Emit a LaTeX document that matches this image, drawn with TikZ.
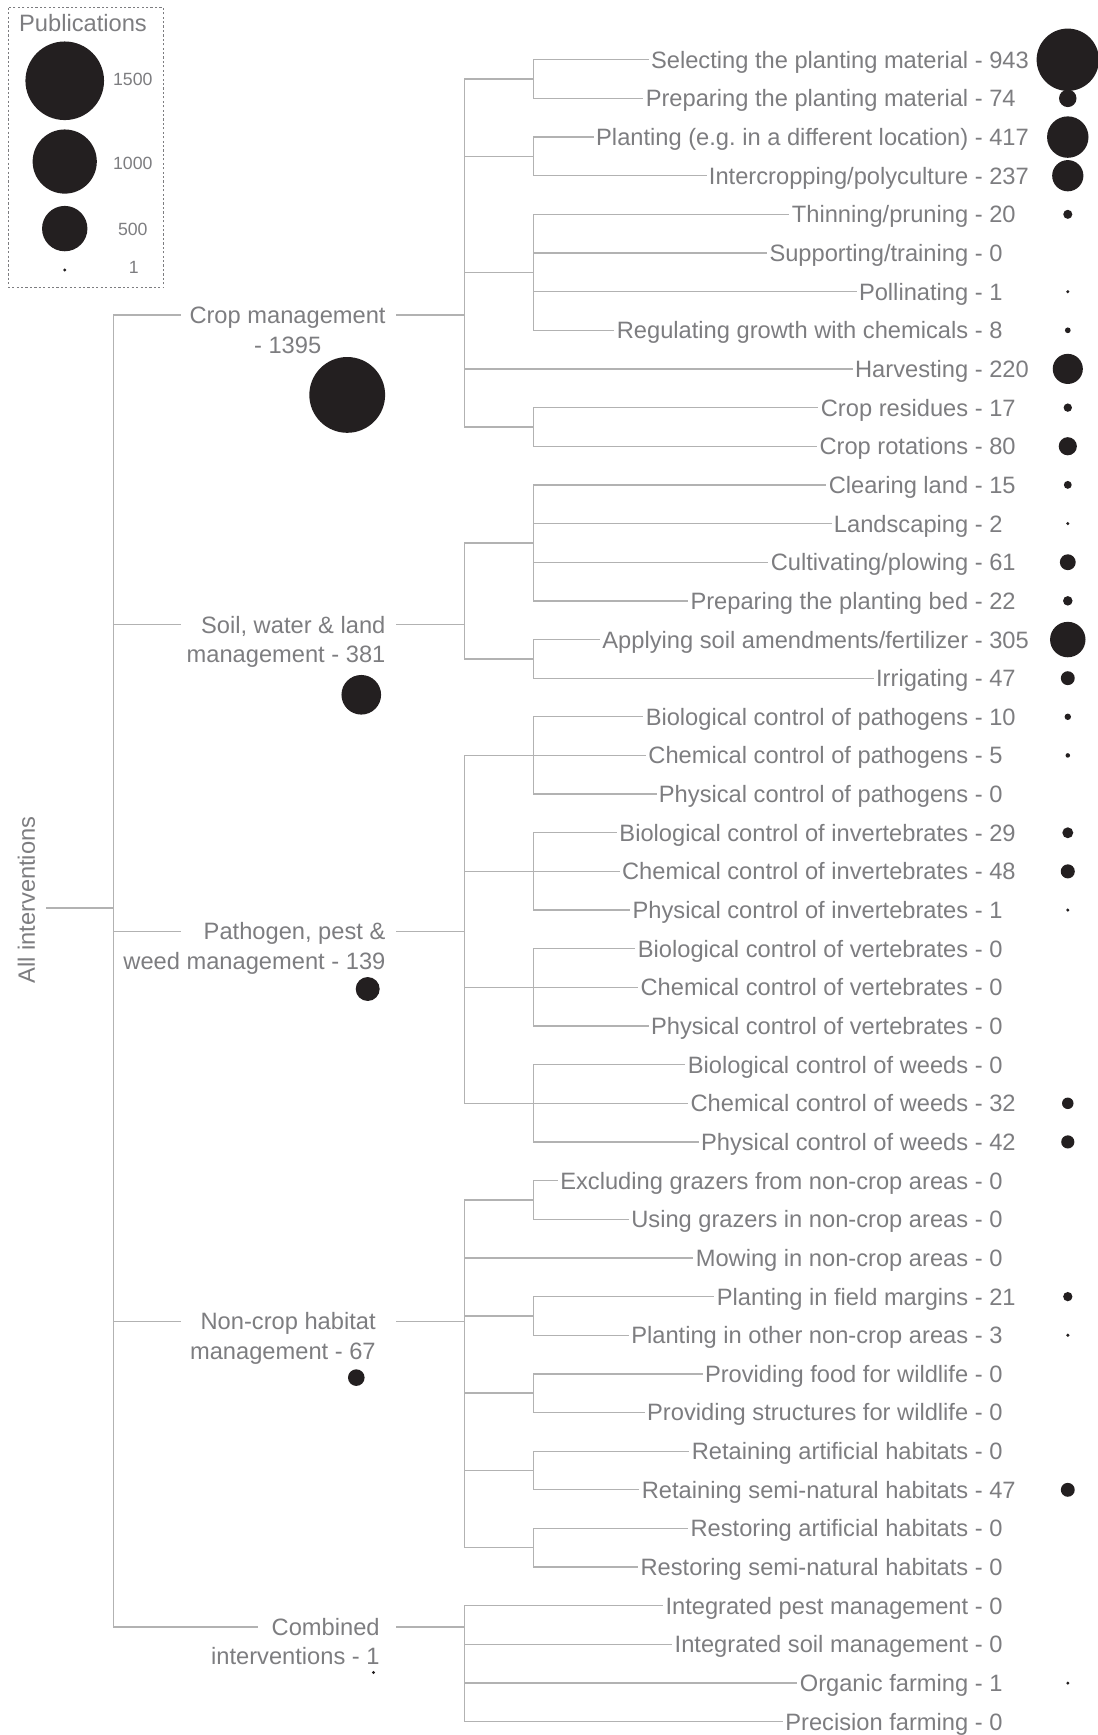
\documentclass[tikz,border=0pt]{standalone}
\usepackage{fontspec}
\setmainfont{Liberation Sans}
\usepackage{tikz}
\usetikzlibrary{calc}
\definecolor{faded}{RGB}{125,125,128}
\definecolor{rule}{RGB}{178,178,178}
\definecolor{ink}{RGB}{35,31,32}
\newcommand{\tally}[2]{#1 - \rlap{#2}\phantom{000}}
\newcommand{\pubdot}[2]{\fill[ink] #1 circle[radius={max(0.917*sqrt(#2),1.5)*1pt}];}

\begin{document}
\begin{tikzpicture}[x=1pt, y=-1pt,
  wire/.style={draw=rule, line width=1.2pt},
  leaf/.style={anchor=east, inner xsep=2pt, inner ysep=0pt, text height=15.3pt,
               text depth=0pt, text=faded, font=\fontsize{21.4}{24}\selectfont},
  cat/.style={leaf, inner xsep=0pt},
  key/.style={text=faded, font=\fontsize{16}{18}\selectfont},
]
  \useasboundingbox (0,0) rectangle (992,1568);

  % legend
  \draw[faded, line width=0.8pt, dash pattern=on 2pt off 2pt] (8,7) rectangle (148,260);
  \node (pubs) [leaf, anchor=center] at (75,21) {Publications};
  \pubdot{(58.5,73)}{1500} \node (k1500) [key] at (120,71.5) {1500};
  \pubdot{(58.5,146)}{1000} \node (k1000) [key] at (120,147.3) {1000};
  \pubdot{(58.5,206.6)}{500} \node (k500) [key] at (120,207.5) {500};
  \pubdot{(58.5,244)}{1} \node (k1) [key] at (121,242) {1};

  \coordinate (root) at (102.5,820.6);
  \coordinate (in2) at (164,0);
  \coordinate (in5) at (233,0);
  \coordinate (out2) at (358,0);
  \coordinate (b2) at (419.5,0);
  \coordinate (b3) at (482,0);
  \coordinate (dots) at (965,0);

  % root
  \node (all) [leaf, anchor=center, rotate=90, inner ysep=10pt] at (23.8,813.5) {All interventions};
  \draw[wire] (all.south |- root) -- (root);

  % categories
  \node (crop) [cat] at (348.7,284.6) {Crop management};
  \node (cropn) [cat, anchor=center] at (260,311.7) {- 1395};
  \pubdot{(313.8,356.9)}{1395}
  \node (soil) [cat] at (348.5,564.6) {Soil, water \& land};
  \node (soiln) [cat] at (348.5,590.8) {management - 381};
  \pubdot{(326.5,627.9)}{381}
  \node (pest) [cat] at (348.5,841.7) {Pathogen, pest \&};
  \node (pestn) [cat] at (348.5,868.8) {weed management - 139};
  \pubdot{(332.3,893.8)}{139}
  \node (habitat) [cat] at (339.7,1194.3) {Non-crop habitat};
  \node (habitatn) [cat] at (339.7,1221) {management - 67};
  \pubdot{(322,1245)}{67}
  \node (comb) [cat] at (343.3,1470.5) {Combined};
  \node (combn) [cat] at (343.3,1496.7) {interventions - 1};
  \pubdot{(337.6,1511.5)}{1}

  \draw[wire] (crop -| root) -- (comb -| root);
  \draw[wire] (crop -| root) -- (crop -| in2) (crop -| out2) -- (crop -| b2);
  \draw[wire] (soil -| root) -- (soil -| in2) (soil -| out2) -- (soil -| b2);
  \draw[wire] (pest -| root) -- (pest -| in2) (pest -| out2) -- (pest -| b2);
  \draw[wire] (habitat -| root) -- (habitat -| in2) (habitat -| out2) -- (habitat -| b2);
  \draw[wire] (comb -| root) -- (comb -| in5) (comb -| out2) -- (comb -| b2);

  % leaves
  \node (l1) [leaf] at (932,54.0) {\tally{Selecting the planting material}{943}};
  \node (l2) [leaf] at (932,88.9) {\tally{Preparing the planting material}{74}};
  \node (l3) [leaf] at (932,123.9) {\tally{Planting (e.g.\ in a different location)}{417}};
  \node (l4) [leaf] at (932,158.8) {\tally{Intercropping/polyculture}{237}};
  \node (l5) [leaf] at (932,193.7) {\tally{Thinning/pruning}{20}};
  \node (l6) [leaf] at (932,228.7) {\tally{Supporting/training}{0}};
  \node (l7) [leaf] at (932,263.6) {\tally{Pollinating}{1}};
  \node (l8) [leaf] at (932,298.5) {\tally{Regulating growth with chemicals}{8}};
  \node (l9) [leaf] at (932,333.4) {\tally{Harvesting}{220}};
  \node (l10) [leaf] at (932,368.4) {\tally{Crop residues}{17}};
  \node (l11) [leaf] at (932,403.3) {\tally{Crop rotations}{80}};
  \node (l12) [leaf] at (932,438.2) {\tally{Clearing land}{15}};
  \node (l13) [leaf] at (932,473.2) {\tally{Landscaping}{2}};
  \node (l14) [leaf] at (932,508.1) {\tally{Cultivating/plowing}{61}};
  \node (l15) [leaf] at (932,543.0) {\tally{Preparing the planting bed}{22}};
  \node (l16) [leaf] at (932,578.0) {\tally{Applying soil amendments/fertilizer}{305}};
  \node (l17) [leaf] at (932,612.9) {\tally{Irrigating}{47}};
  \node (l18) [leaf] at (932,647.8) {\tally{Biological control of pathogens}{10}};
  \node (l19) [leaf] at (932,682.7) {\tally{Chemical control of pathogens}{5}};
  \node (l20) [leaf] at (932,717.7) {\tally{Physical control of pathogens}{0}};
  \node (l21) [leaf] at (932,752.6) {\tally{Biological control of invertebrates}{29}};
  \node (l22) [leaf] at (932,787.5) {\tally{Chemical control of invertebrates}{48}};
  \node (l23) [leaf] at (932,822.5) {\tally{Physical control of invertebrates}{1}};
  \node (l24) [leaf] at (932,857.4) {\tally{Biological control of vertebrates}{0}};
  \node (l25) [leaf] at (932,892.3) {\tally{Chemical control of vertebrates}{0}};
  \node (l26) [leaf] at (932,927.3) {\tally{Physical control of vertebrates}{0}};
  \node (l27) [leaf] at (932,962.2) {\tally{Biological control of weeds}{0}};
  \node (l28) [leaf] at (932,997.1) {\tally{Chemical control of weeds}{32}};
  \node (l29) [leaf] at (932,1032.0) {\tally{Physical control of weeds}{42}};
  \node (l30) [leaf] at (932,1067.0) {\tally{Excluding grazers from non-crop areas}{0}};
  \node (l31) [leaf] at (932,1101.9) {\tally{Using grazers in non-crop areas}{0}};
  \node (l32) [leaf] at (932,1136.8) {\tally{Mowing in non-crop areas}{0}};
  \node (l33) [leaf] at (932,1171.8) {\tally{Planting in field margins}{21}};
  \node (l34) [leaf] at (932,1206.7) {\tally{Planting in other non-crop areas}{3}};
  \node (l35) [leaf] at (932,1241.6) {\tally{Providing food for wildlife}{0}};
  \node (l36) [leaf] at (932,1276.5) {\tally{Providing structures for wildlife}{0}};
  \node (l37) [leaf] at (932,1311.5) {\tally{Retaining artificial habitats}{0}};
  \node (l38) [leaf] at (932,1346.4) {\tally{Retaining semi-natural habitats}{47}};
  \node (l39) [leaf] at (932,1381.3) {\tally{Restoring artificial habitats}{0}};
  \node (l40) [leaf] at (932,1416.3) {\tally{Restoring semi-natural habitats}{0}};
  \node (l41) [leaf] at (932,1451.2) {\tally{Integrated pest management}{0}};
  \node (l42) [leaf] at (932,1486.1) {\tally{Integrated soil management}{0}};
  \node (l43) [leaf] at (932,1521.1) {\tally{Organic farming}{1}};
  \node (l44) [leaf] at (932,1556.0) {\tally{Precision farming}{0}};

  % group joints
  \coordinate (g1) at ($(l1)!.5!(l2)$);
  \coordinate (g2) at ($(l3)!.5!(l4)$);
  \coordinate (g3) at ($(l5)!.5!(l8)$);
  \coordinate (g4) at ($(l10)!.5!(l11)$);
  \coordinate (g5) at ($(l12)!.5!(l15)$);
  \coordinate (g6) at ($(l16)!.5!(l17)$);
  \coordinate (g7) at ($(l18)!.5!(l20)$);
  \coordinate (g8) at ($(l21)!.5!(l23)$);
  \coordinate (g9) at ($(l24)!.5!(l26)$);
  \coordinate (g10) at ($(l27)!.5!(l29)$);
  \coordinate (g11) at ($(l30)!.5!(l31)$);
  \coordinate (g12) at ($(l33)!.5!(l34)$);
  \coordinate (g13) at ($(l35)!.5!(l36)$);
  \coordinate (g14) at ($(l37)!.5!(l38)$);
  \coordinate (g15) at ($(l39)!.5!(l40)$);

  % second level buses
  \draw[wire] (g1 -| b2) -- (g4 -| b2);
  \draw[wire] (g5 -| b2) -- (g6 -| b2);
  \draw[wire] (g7 -| b2) -- (g10 -| b2);
  \draw[wire] (g11 -| b2) -- (g15 -| b2);
  \draw[wire] (l41 -| b2) -- (l44 -| b2);
  \draw[wire] (g1 -| b2) -- (g1 -| b3) (g2 -| b2) -- (g2 -| b3) (g3 -| b2) -- (g3 -| b3);
  \draw[wire] (g4 -| b2) -- (g4 -| b3) (g5 -| b2) -- (g5 -| b3) (g6 -| b2) -- (g6 -| b3);
  \draw[wire] (g7 -| b2) -- (g7 -| b3) (g8 -| b2) -- (g8 -| b3) (g9 -| b2) -- (g9 -| b3);
  \draw[wire] (g10 -| b2) -- (g10 -| b3) (g11 -| b2) -- (g11 -| b3) (g12 -| b2) -- (g12 -| b3);
  \draw[wire] (g13 -| b2) -- (g13 -| b3) (g14 -| b2) -- (g14 -| b3) (g15 -| b2) -- (g15 -| b3);

  % third level buses
  \draw[wire] (l1 -| b3) -- (l2 -| b3) (l3 -| b3) -- (l4 -| b3) (l5 -| b3) -- (l8 -| b3);
  \draw[wire] (l10 -| b3) -- (l11 -| b3) (l12 -| b3) -- (l15 -| b3) (l16 -| b3) -- (l17 -| b3);
  \draw[wire] (l18 -| b3) -- (l20 -| b3) (l21 -| b3) -- (l23 -| b3) (l24 -| b3) -- (l26 -| b3);
  \draw[wire] (l27 -| b3) -- (l29 -| b3) (l30 -| b3) -- (l31 -| b3) (l33 -| b3) -- (l34 -| b3);
  \draw[wire] (l35 -| b3) -- (l36 -| b3) (l37 -| b3) -- (l38 -| b3) (l39 -| b3) -- (l40 -| b3);

  % leaf wires
  \draw[wire] (l1 -| b3) -- (l1.west) (l2 -| b3) -- (l2.west) (l3 -| b3) -- (l3.west) (l4 -| b3) -- (l4.west);
  \draw[wire] (l5 -| b3) -- (l5.west) (l6 -| b3) -- (l6.west) (l7 -| b3) -- (l7.west) (l8 -| b3) -- (l8.west);
  \draw[wire] (l9 -| b2) -- (l9.west) (l10 -| b3) -- (l10.west) (l11 -| b3) -- (l11.west);
  \draw[wire] (l12 -| b3) -- (l12.west) (l13 -| b3) -- (l13.west) (l14 -| b3) -- (l14.west) (l15 -| b3) -- (l15.west);
  \draw[wire] (l16 -| b3) -- (l16.west) (l17 -| b3) -- (l17.west);
  \draw[wire] (l18 -| b3) -- (l18.west) (l19 -| b3) -- (l19.west) (l20 -| b3) -- (l20.west);
  \draw[wire] (l21 -| b3) -- (l21.west) (l22 -| b3) -- (l22.west) (l23 -| b3) -- (l23.west);
  \draw[wire] (l24 -| b3) -- (l24.west) (l25 -| b3) -- (l25.west) (l26 -| b3) -- (l26.west);
  \draw[wire] (l27 -| b3) -- (l27.west) (l28 -| b3) -- (l28.west) (l29 -| b3) -- (l29.west);
  \draw[wire] (l30 -| b3) -- (l30.west) (l31 -| b3) -- (l31.west) (l32 -| b2) -- (l32.west);
  \draw[wire] (l33 -| b3) -- (l33.west) (l34 -| b3) -- (l34.west) (l35 -| b3) -- (l35.west) (l36 -| b3) -- (l36.west);
  \draw[wire] (l37 -| b3) -- (l37.west) (l38 -| b3) -- (l38.west) (l39 -| b3) -- (l39.west) (l40 -| b3) -- (l40.west);
  \draw[wire] (l41 -| b2) -- (l41.west) (l42 -| b2) -- (l42.west) (l43 -| b2) -- (l43.west) (l44 -| b2) -- (l44.west);

  % publication dots
  \pubdot{(l1 -| dots)}{943} \pubdot{(l2 -| dots)}{74} \pubdot{(l3 -| dots)}{417}
  \pubdot{(l4 -| dots)}{237} \pubdot{(l5 -| dots)}{20} \pubdot{(l7 -| dots)}{1}
  \pubdot{(l8 -| dots)}{8} \pubdot{(l9 -| dots)}{220} \pubdot{(l10 -| dots)}{17}
  \pubdot{(l11 -| dots)}{80} \pubdot{(l12 -| dots)}{15} \pubdot{(l13 -| dots)}{2}
  \pubdot{(l14 -| dots)}{61} \pubdot{(l15 -| dots)}{22} \pubdot{(l16 -| dots)}{305}
  \pubdot{(l17 -| dots)}{47} \pubdot{(l18 -| dots)}{10} \pubdot{(l19 -| dots)}{5}
  \pubdot{(l21 -| dots)}{29} \pubdot{(l22 -| dots)}{48} \pubdot{(l23 -| dots)}{1}
  \pubdot{(l28 -| dots)}{32} \pubdot{(l29 -| dots)}{42} \pubdot{(l33 -| dots)}{21}
  \pubdot{(l34 -| dots)}{3} \pubdot{(l38 -| dots)}{47} \pubdot{(l43 -| dots)}{1}
\end{tikzpicture}
\end{document}
